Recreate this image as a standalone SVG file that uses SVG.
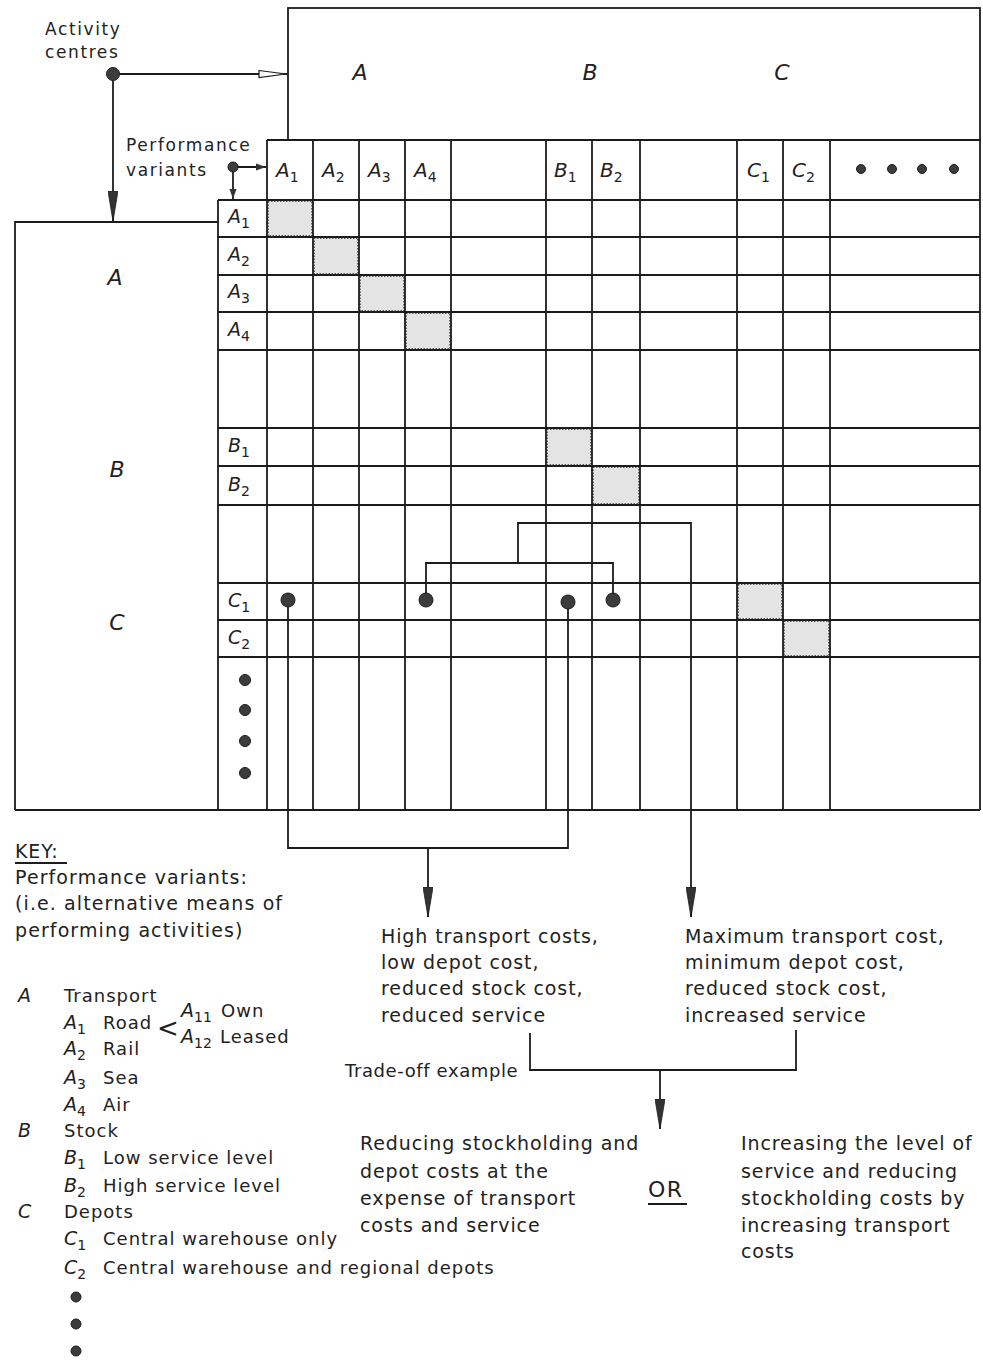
<svg xmlns="http://www.w3.org/2000/svg" width="983" height="1362" viewBox="0 0 983 1362">
<style>
.ln{stroke:#1c1c1c;stroke-width:1.8;fill:none}
.cn{stroke:#1c1c1c;stroke-width:1.8;fill:none}
.sh{fill:#e4e4e4;stroke:#333;stroke-width:1.4;stroke-dasharray:1.5 1.5}
.dot{fill:#3c3c3c;stroke:#1c1c1c;stroke-width:1}
text{font-family:"DejaVu Sans","Liberation Sans",sans-serif;fill:#222}
.t{font-size:19px;letter-spacing:0.9px}
.k{font-size:18px;letter-spacing:1px}
.big{font-size:22px;font-style:italic}
.lab{font-size:19px;font-style:italic}
.sub{font-size:14px;font-style:normal}
.sm{font-size:17px;letter-spacing:1.6px}
</style>
<defs>
<marker id="af" markerUnits="userSpaceOnUse" markerWidth="30" markerHeight="10" refX="30" refY="5" orient="auto"><path d="M0,0 L30,5 L0,10 z" fill="#333" stroke="#1c1c1c" stroke-width="0.8"/></marker>
<marker id="ao" markerUnits="userSpaceOnUse" markerWidth="30" markerHeight="10" refX="29" refY="5" orient="auto"><path d="M1,1.5 L28,5 L1,8.5 z" fill="#fff" stroke="#1c1c1c" stroke-width="1.2"/></marker>
<marker id="as" markerUnits="userSpaceOnUse" markerWidth="10" markerHeight="8" refX="10" refY="4" orient="auto"><path d="M0,0.5 L10,4 L0,7.5 z" fill="#333"/></marker>
</defs>

<g id="top-box">
<rect class="ln" x="288" y="8" width="692" height="132"/>
<text class="big" x="360" y="80" text-anchor="middle">A</text>
<text class="big" x="590" y="80" text-anchor="middle">B</text>
<text class="big" x="782" y="80" text-anchor="middle">C</text>
</g>

<g id="left-box">
<path class="ln" d="M218,222 H15 V810"/>
<text class="big" x="115" y="285" text-anchor="middle">A</text>
<text class="big" x="117" y="477" text-anchor="middle">B</text>
<text class="big" x="117" y="630" text-anchor="middle">C</text>
</g>

<g id="grid">
<rect class="sh" x="268" y="201" width="44" height="35"/>
<rect class="sh" x="314" y="238" width="44" height="36"/>
<rect class="sh" x="360" y="276" width="44" height="35"/>
<rect class="sh" x="406" y="313" width="44" height="36"/>
<rect class="sh" x="547" y="429" width="44" height="36"/>
<rect class="sh" x="593" y="467" width="46" height="37"/>
<rect class="sh" x="738" y="584" width="44" height="35"/>
<rect class="sh" x="784" y="621" width="45" height="35"/>
<path class="ln" d="M267,140 H980 M218,200 H980 M218,237 H980 M218,275 H980 M218,312 H980 M218,350 H980 M218,428 H980 M218,466 H980 M218,505 H980 M218,583 H980 M218,620 H980 M218,657 H980 M15,810 H980"/>
<path class="ln" d="M218,200 V810 M267,140 V810 M313,140 V810 M359,140 V810 M405,140 V810 M451,140 V810 M546,140 V810 M592,140 V810 M640,140 V810 M737,140 V810 M783,140 V810 M830,140 V810 M980,140 V810"/>
</g>

<g id="header-row">
<text class="lab" x="276" y="177" style="font-size:20px">A<tspan class="sub" dy="5">1</tspan></text>
<text class="lab" x="322" y="177" style="font-size:20px">A<tspan class="sub" dy="5">2</tspan></text>
<text class="lab" x="368" y="177" style="font-size:20px">A<tspan class="sub" dy="5">3</tspan></text>
<text class="lab" x="414" y="177" style="font-size:20px">A<tspan class="sub" dy="5">4</tspan></text>
<text class="lab" x="554" y="177" style="font-size:20px">B<tspan class="sub" dy="5">1</tspan></text>
<text class="lab" x="600" y="177" style="font-size:20px">B<tspan class="sub" dy="5">2</tspan></text>
<text class="lab" x="747" y="177" style="font-size:20px">C<tspan class="sub" dy="5">1</tspan></text>
<text class="lab" x="792" y="177" style="font-size:20px">C<tspan class="sub" dy="5">2</tspan></text>
<circle class="dot" cx="861" cy="169" r="4.5"/>
<circle class="dot" cx="892" cy="169" r="4.5"/>
<circle class="dot" cx="922" cy="169" r="4.5"/>
<circle class="dot" cx="954" cy="169" r="4.5"/>
</g>

<g id="row-labels">
<text class="lab" x="228" y="223">A<tspan class="sub" dy="5">1</tspan></text>
<text class="lab" x="228" y="261">A<tspan class="sub" dy="5">2</tspan></text>
<text class="lab" x="228" y="298">A<tspan class="sub" dy="5">3</tspan></text>
<text class="lab" x="228" y="336">A<tspan class="sub" dy="5">4</tspan></text>
<text class="lab" x="228" y="452">B<tspan class="sub" dy="5">1</tspan></text>
<text class="lab" x="228" y="491">B<tspan class="sub" dy="5">2</tspan></text>
<text class="lab" x="228" y="607">C<tspan class="sub" dy="5">1</tspan></text>
<text class="lab" x="228" y="644">C<tspan class="sub" dy="5">2</tspan></text>
<circle class="dot" cx="245" cy="680" r="5.5"/>
<circle class="dot" cx="245" cy="710" r="5.5"/>
<circle class="dot" cx="245" cy="741" r="5.5"/>
<circle class="dot" cx="245" cy="773" r="5.5"/>
</g>

<g id="activity-centres">
<text class="sm" x="45" y="35">Activity</text>
<text class="sm" x="45" y="58">centres</text>
</g>

<g id="performance-variants">
<text class="sm" x="126" y="151">Performance</text>
<text class="sm" x="126" y="176">variants</text>
</g>

<g id="connectors">
<path class="cn" d="M113,74 H287" marker-end="url(#ao)"/>
<path class="cn" d="M113,74 V221" marker-end="url(#af)"/>
<path class="cn" d="M233,167 H266" marker-end="url(#as)"/>
<path class="cn" d="M233,167 V199" marker-end="url(#as)"/>
<path class="cn" d="M426,594 V563 H613 V594"/>
<path class="cn" d="M518,563 V523 H691 V917" marker-end="url(#af)"/>
<path class="cn" d="M288,600 V848 H568 V602"/>
<path class="cn" d="M428,848 V917" marker-end="url(#af)"/>
<path class="cn" d="M530,1033 V1070 H796 V1030"/>
<path class="cn" d="M660,1070 V1129" marker-end="url(#af)"/>
<circle class="dot" cx="113" cy="74" r="6.5"/>
<circle class="dot" cx="233" cy="167" r="5"/>
<circle class="dot" cx="288" cy="600" r="7"/>
<circle class="dot" cx="426" cy="600" r="7"/>
<circle class="dot" cx="568" cy="602" r="7"/>
<circle class="dot" cx="613" cy="600" r="7"/>
</g>

<g id="key">
<text class="t" x="15" y="858">KEY:</text>
<path class="ln" d="M15,863 H67" stroke-width="1.3"/>
<text class="t" x="15" y="884" style="letter-spacing:1.1px">Performance variants:</text>
<text class="t" x="15" y="910" style="letter-spacing:1.1px">(i.e. alternative means of</text>
<text class="t" x="15" y="937" style="letter-spacing:1.1px">performing activities)</text>

<text class="lab" x="18" y="1002">A</text>
<text class="k" x="64" y="1002">Transport</text>
<text class="lab" x="64" y="1029">A<tspan class="sub" dy="5">1</tspan></text>
<text class="k" x="103" y="1029">Road</text>
<text x="157" y="1037" style="font-size:26px">&lt;</text>
<text class="lab" x="181" y="1017">A<tspan class="sub" dy="5">11</tspan></text>
<text class="k" x="221" y="1017">Own</text>
<text class="lab" x="181" y="1043">A<tspan class="sub" dy="5">12</tspan></text>
<text class="k" x="220" y="1043">Leased</text>
<text class="lab" x="64" y="1055">A<tspan class="sub" dy="5">2</tspan></text>
<text class="k" x="103" y="1055">Rail</text>
<text class="lab" x="64" y="1084">A<tspan class="sub" dy="5">3</tspan></text>
<text class="k" x="103" y="1084">Sea</text>
<text class="lab" x="64" y="1111">A<tspan class="sub" dy="5">4</tspan></text>
<text class="k" x="103" y="1111">Air</text>
<text class="lab" x="18" y="1137">B</text>
<text class="k" x="64" y="1137">Stock</text>
<text class="lab" x="64" y="1164">B<tspan class="sub" dy="5">1</tspan></text>
<text class="k" x="103" y="1164">Low service level</text>
<text class="lab" x="64" y="1192">B<tspan class="sub" dy="5">2</tspan></text>
<text class="k" x="103" y="1192">High service level</text>
<text class="lab" x="18" y="1218">C</text>
<text class="k" x="64" y="1218">Depots</text>
<text class="lab" x="64" y="1245">C<tspan class="sub" dy="5">1</tspan></text>
<text class="k" x="103" y="1245">Central warehouse only</text>
<text class="lab" x="64" y="1274">C<tspan class="sub" dy="5">2</tspan></text>
<text class="k" x="103" y="1274">Central warehouse and regional depots</text>
<circle class="dot" cx="76" cy="1297" r="5"/>
<circle class="dot" cx="76" cy="1324" r="5"/>
<circle class="dot" cx="76" cy="1351" r="5"/>
</g>

<g id="outcome-left">
<text class="t" x="381" y="943">High transport costs,</text>
<text class="t" x="381" y="969">low depot cost,</text>
<text class="t" x="381" y="995">reduced stock cost,</text>
<text class="t" x="381" y="1022">reduced service</text>
</g>

<g id="outcome-right">
<text class="t" x="685" y="943">Maximum transport cost,</text>
<text class="t" x="685" y="969">minimum depot cost,</text>
<text class="t" x="685" y="995">reduced stock cost,</text>
<text class="t" x="685" y="1022">increased service</text>
</g>

<g id="trade-off-label">
<text class="t" x="345" y="1077" style="font-size:18px;letter-spacing:0.6px">Trade-off example</text>
</g>

<g id="result-left">
<text class="t" x="360" y="1150">Reducing stockholding and</text>
<text class="t" x="360" y="1178">depot costs at the</text>
<text class="t" x="360" y="1205">expense of transport</text>
<text class="t" x="360" y="1232">costs and service</text>
</g>

<g id="or-label">
<text class="t" x="648" y="1197" style="font-size:22px;letter-spacing:1.5px">OR</text>
<path class="ln" d="M648,1204 H687" stroke-width="1.3"/>
</g>

<g id="result-right">
<text class="t" x="741" y="1150">Increasing the level of</text>
<text class="t" x="741" y="1178">service and reducing</text>
<text class="t" x="741" y="1205">stockholding costs by</text>
<text class="t" x="741" y="1232">increasing transport</text>
<text class="t" x="741" y="1258">costs</text>
</g>
</svg>
